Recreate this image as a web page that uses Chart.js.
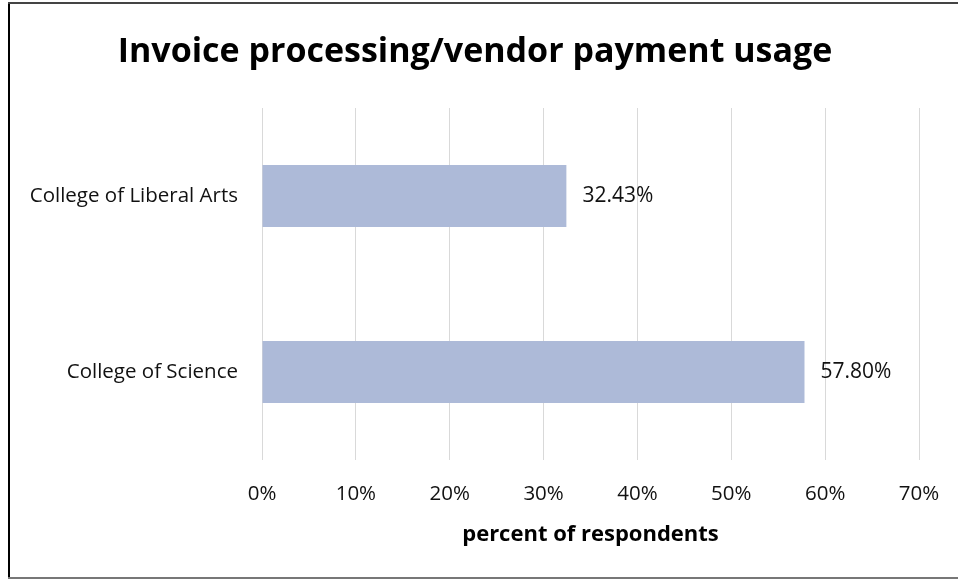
<!DOCTYPE html>
<html>
<head>
<meta charset="utf-8">
<title>Invoice processing/vendor payment usage</title>
<script src="https://cdn.jsdelivr.net/npm/chart.js@4"></script>
<style>
  html, body { margin: 0; padding: 0; background: #fff; }
  #wrap { position: relative; width: 958px; height: 579px; }
</style>
</head>
<body>
<div id="wrap"><canvas id="chart" width="958" height="579"></canvas></div>
<script>
const colleges = ["College of Liberal Arts", "College of Science"];
const usage = [32.43, 57.8];
const xTicks = [0, 10, 20, 30, 40, 50, 60, 70];

const FONT = "'Open Sans', Lato, sans-serif";
const TITLE = "Invoice processing/vendor payment usage";

// frame around the chart (left, top and bottom edges) plus the heading
const framePlugin = {
    id: "frame",
    beforeDraw(chart) {
        const ctx = chart.ctx;
        ctx.save();
        ctx.fillStyle = "#000";
        ctx.fillRect(8, 2, 2, 576);
        ctx.fillStyle = "#444";
        ctx.fillRect(8, 2, 950, 2);
        ctx.fillStyle = "#777";
        ctx.fillRect(8, 577, 950, 2);

        ctx.fillStyle = "#000";
        ctx.font = "bold 34px " + FONT;
        ctx.textAlign = "center";
        ctx.textBaseline = "middle";
        ctx.fillText(TITLE, 475, 52);
        ctx.restore();
    },
};

// value labels to the right of each bar
const valueLabels = {
    id: "valueLabels",
    afterDatasetsDraw(chart) {
        const ctx = chart.ctx;
        const meta = chart.getDatasetMeta(0);
        ctx.save();
        ctx.font = "21px " + FONT;
        ctx.fillStyle = "#111";
        ctx.textAlign = "left";
        ctx.textBaseline = "middle";
        meta.data.forEach((bar, i) => {
            ctx.fillText(usage[i].toFixed(2) + "%", bar.x + 16, bar.y);
        });
        ctx.restore();
    },
};

const config = {
    type: "bar",
    data: {
        labels: colleges,
        datasets: [
            {
                data: usage,
                backgroundColor: "#adbad8",
                borderWidth: 0,
                categoryPercentage: 1,
                barPercentage: 0.352,
            },
        ],
    },
    options: {
        indexAxis: "y",
        responsive: false,
        animation: false,
        layout: { padding: { left: 0, right: 39, top: 108, bottom: 31 } },
        plugins: {
            legend: { display: false },
            tooltip: { enabled: false },
            title: { display: false },
        },
        scales: {
            x: {
                min: 0,
                max: 70,
                afterBuildTicks(scale) {
                    scale.ticks = xTicks.map((v) => ({ value: v }));
                },
                afterFit(scale) {
                    scale.height = 88;
                },
                // invisible tick marks push the labels down without widening the side padding
                grid: {
                    color: "#d9d9d9",
                    lineWidth: 1,
                    drawTicks: true,
                    tickLength: 22,
                    tickColor: "rgba(0,0,0,0)",
                },
                border: { display: false },
                ticks: {
                    padding: 0,
                    color: "#111",
                    font: { family: FONT, size: 20.5 },
                    callback: (v) => v + "%",
                },
                title: {
                    display: true,
                    text: "percent of respondents",
                    color: "#000",
                    font: { family: FONT, size: 22, weight: "bold", lineHeight: 1.2 },
                    padding: { top: 0, bottom: 0 },
                },
            },
            y: {
                afterFit(scale) {
                    scale.width = 262;
                },
                grid: { display: false, drawTicks: false },
                border: { display: false },
                ticks: {
                    padding: 24,
                    color: "#111",
                    font: { family: FONT, size: 20.5 },
                },
            },
        },
    },
    plugins: [framePlugin, valueLabels],
};

const chartEl = document.getElementById("chart");
const myChart = new Chart(chartEl, config);
</script>
</body>
</html>
